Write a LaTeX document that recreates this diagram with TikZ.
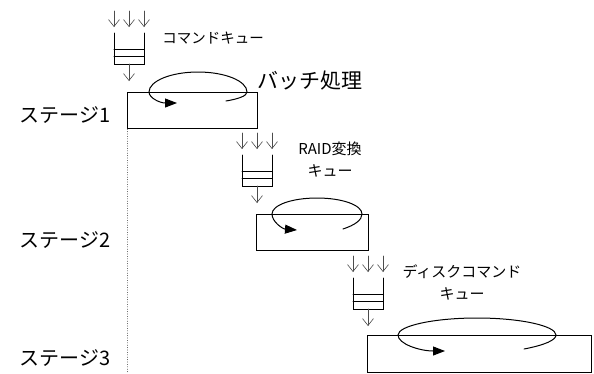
\documentclass[tikz,border=0pt]{standalone}
\usepackage{fontspec}
\setmainfont{Noto Sans CJK JP}
\usetikzlibrary{arrows.meta}

\begin{document}
\begin{tikzpicture}[x=1pt, y=-1pt, line cap=round,
  qarrow/.style={-{Straight Barb[length=7pt,width=11pt]}, line width=0.6pt, black!70},
  qline/.style={line width=1pt},
  stagebox/.style={draw, line width=1pt, inner sep=0pt, anchor=north west},
  loopline/.style={line width=1pt, -{Triangle[length=12pt,width=9pt]}},
  stagelabel/.style={font=\fontsize{20}{24}\selectfont},
  biglabel/.style={font=\fontsize{21}{25}\selectfont},
  qlabel/.style={font=\fontsize{14.5}{17}\selectfont, align=center}]
\useasboundingbox (0,0) rectangle (594,373);
% キュー（入力矢印・箱・出力矢印）
\foreach \qx/\qy/\n in {114/33/1, 242/155/2, 353/278/3} {
  \begin{scope}[shift={(\qx,\qy)}]
    \foreach \i/\ax in {a/0, b/15, c/30} {
      \coordinate (in\n\i) at (\ax,-22);
      \coordinate (top\n\i) at (\ax,-6);
      \draw[qarrow] (in\n\i) -- (top\n\i);
    }
    \draw[qline] (0,0) -- (0,31) -- (30,31) -- (30,0);
    \draw[qline] (0,16) -- (30,16);
    \draw[qline] (0,23) -- (30,23);
    \coordinate (out\n) at (15,31);
    \coordinate (end\n) at (15,48);
    \draw[qarrow] (out\n) -- (end\n);
  \end{scope}
}
\node[qlabel] (q1) at (213,38) {コマンドキュー};
\node[qlabel, font=\fontsize{15}{22}\selectfont] (q2) at (330,160) {RAID変換\\キュー};
\node[qlabel, font=\fontsize{15}{22}\selectfont] (q3) at (462,282) {ディスクコマンド\\キュー};
% ステージの箱
\node[stagebox, minimum width=130pt, minimum height=36pt] (s1) at (127,92) {};
\node[stagebox, minimum width=112pt, minimum height=36pt] (s2) at (256,214) {};
\node[stagebox, minimum width=224pt, minimum height=37pt] (s3) at (367,335) {};
% 左端の点線
\coordinate (base) at (127,373);
\draw[dotted, black!70] (s1.south west) -- (base);
% バッチ処理のループ
\draw[loopline] (226,101) .. controls (238,99) and (247,96) .. (247,92)
  .. controls (247,81) and (225,72) .. (198,72)
  .. controls (171,72) and (149,81) .. (149,92)
  .. controls (149,98) and (160,103) .. (177,103);
\draw[loopline] (343,229) .. controls (355,225) and (362,220) .. (362,214)
  .. controls (362,205) and (342,198) .. (317,198)
  .. controls (292,198) and (272,205) .. (272,214)
  .. controls (272,222) and (283,229) .. (297,230);
\draw[loopline] (524,349) .. controls (545,345) and (556,340) .. (556,335)
  .. controls (556,326) and (521,318) .. (477,318)
  .. controls (433,318) and (398,326) .. (398,335)
  .. controls (398,344) and (420,351) .. (445,351);
\node[biglabel] (batch) at (310,81) {バッチ処理};
% ステージ名
\node[stagelabel] (st1) at (65,115) {ステージ1};
\node[stagelabel] (st2) at (65,240) {ステージ2};
\node[stagelabel] (st3) at (65,358) {ステージ3};
\end{tikzpicture}
\end{document}
